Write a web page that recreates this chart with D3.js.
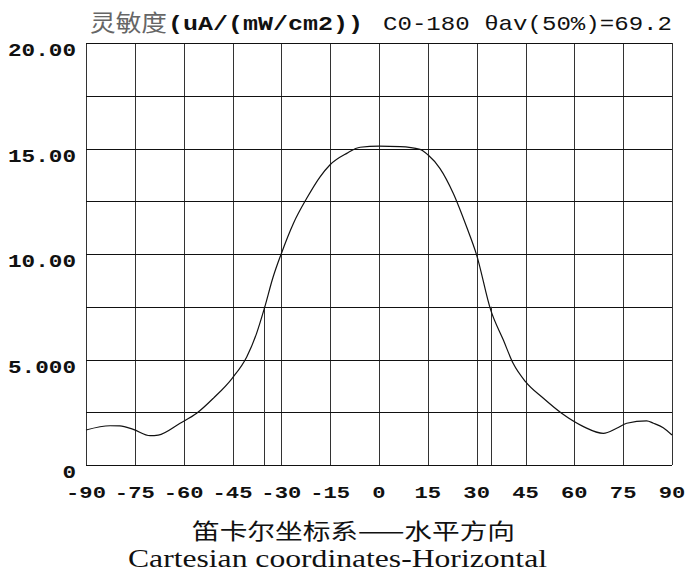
<!DOCTYPE html>
<html>
<head>
<meta charset="utf-8">
<script src="https://cdn.jsdelivr.net/npm/d3@7"></script>
<style>
  body { margin: 0; background: #fff; }
  .mono { font-family: "Liberation Mono", "DejaVu Sans Mono", monospace; font-weight: bold; fill: #111; }
</style>
</head>
<body>
<div id="chart"></div>
<script>
// measured curve, angle (deg) -> sensitivity
var angles = [-90, -82.6, -79.6, -75.5, -70.3, -67.8, -61.1, -56, -50.9, -45.1, -40.6, -37.6, -35.2, -32.5, -30.1,
  -26.3, -22.2, -18.1, -15.1, -9.9, -5.8, 0, 6.5, 12.6, 15.1, 18.7, 22.8, 26.9, 30.0, 34.3, 38.2, 41.2, 45.0,
  50.5, 56.1, 62.8, 68.9, 73.0, 76.1, 82.2, 84.3, 87.3, 90];
var values = [1.66, 1.86, 1.85, 1.69, 1.39, 1.42, 1.98, 2.45, 3.16, 4.11, 5.13, 6.24, 7.43, 8.92, 9.98,
  11.45, 12.64, 13.66, 14.22, 14.77, 15.06, 15.11, 15.09, 14.96, 14.69, 14.06, 12.88, 11.29, 9.95, 7.35, 5.92, 4.82, 3.95,
  3.16, 2.45, 1.82, 1.50, 1.74, 1.98, 2.09, 1.98, 1.77, 1.42];
var halfAngles = [-35.2, 34.3];
var halfValue = 7.5;
var xTicks = [-90, -75, -60, -45, -30, -15, 0, 15, 30, 45, 60, 75, 90];
var yGrid = [0, 2.5, 5, 7.5, 10, 12.5, 15, 17.5, 20];
var yLabels = [[0, "0"], [5, "5.000"], [10, "10.00"], [15, "15.00"], [20, "20.00"]];

var W = 685, H = 587;
var margin = { top: 43, right: 13, bottom: 122, left: 86 },
    width = W - margin.left - margin.right,
    height = H - margin.top - margin.bottom;

var svg = d3.select("#chart").append("svg").attr("width", W).attr("height", H);
var g = svg.append("g").attr("transform", "translate(" + margin.left + "," + margin.top + ")");

var x = d3.scaleLinear().domain([-90, 90]).range([0, width]);
var y = d3.scaleLinear().domain([0, 20]).range([height, 0]);

// grid
g.selectAll(".vg").data(xTicks).enter().append("line")
  .attr("x1", d => Math.round(x(d)) + 0.5).attr("x2", d => Math.round(x(d)) + 0.5)
  .attr("y1", 0).attr("y2", height)
  .attr("stroke", "#333").attr("stroke-width", 1);
g.selectAll(".hg").data(yGrid).enter().append("line")
  .attr("y1", d => Math.round(y(d)) + 0.5).attr("y2", d => Math.round(y(d)) + 0.5)
  .attr("x1", 0).attr("x2", width)
  .attr("stroke", "#111").attr("stroke-width", 1);

// half maximum markers
g.selectAll(".hm").data(halfAngles).enter().append("line")
  .attr("x1", d => Math.round(x(d)) + 0.5).attr("x2", d => Math.round(x(d)) + 0.5)
  .attr("y1", height).attr("y2", y(halfValue))
  .attr("stroke", "#333").attr("stroke-width", 1);

// curve
var line = d3.line().x(d => x(d[0])).y(d => y(d[1])).curve(d3.curveMonotoneX);
g.append("path").datum(angles.map((a, i) => [a, values[i]]))
  .attr("d", line).attr("fill", "none").attr("stroke", "#111").attr("stroke-width", 1.2);

// axis labels
g.selectAll(".yl").data(yLabels).enter().append("text")
  .attr("class", "mono")
  .attr("x", -10).attr("y", d => y(d[0]) + 13)
  .attr("text-anchor", "end").style("font-size", "19px")
  .attr("textLength", d => d[1].length * 13.6).attr("lengthAdjust", "spacingAndGlyphs")
  .text(d => d[1]);

g.selectAll(".xl").data(xTicks).enter().append("text")
  .attr("class", "mono")
  .attr("x", d => x(d)).attr("y", height + 33)
  .attr("text-anchor", "middle").style("font-size", "17px")
  .attr("textLength", d => String(d).length * 13.3).attr("lengthAdjust", "spacingAndGlyphs")
  .text(d => d);

// title
svg.append("text").attr("x", 90).attr("y", 31)
  .style("font-family", "Noto Sans CJK SC").style("font-size", "23px").style("fill", "#666")
  .attr("textLength", 77).attr("lengthAdjust", "spacingAndGlyphs")
  .text("灵敏度");
svg.append("text").attr("class", "mono").attr("x", 168).attr("y", 30)
  .style("font-size", "21px")
  .attr("textLength", 195).attr("lengthAdjust", "spacingAndGlyphs")
  .text("(uA/(mW/cm2))");
svg.append("text").attr("class", "mono").attr("x", 383).attr("y", 30)
  .style("font-size", "21px").style("font-weight", "normal")
  .attr("textLength", 289).attr("lengthAdjust", "spacingAndGlyphs")
  .text("C0-180 θav(50%)=69.2");

// captions
svg.append("text").attr("x", 353.5).attr("y", 539).attr("text-anchor", "middle")
  .style("font-family", "Noto Sans CJK SC").style("font-size", "22px").style("fill", "#111")
  .attr("textLength", 323).attr("lengthAdjust", "spacingAndGlyphs")
  .text("笛卡尔坐标系——水平方向");
svg.append("text").attr("x", 337.5).attr("y", 567).attr("text-anchor", "middle")
  .style("font-family", "Liberation Serif").style("font-size", "25px").style("fill", "#111")
  .attr("textLength", 419).attr("lengthAdjust", "spacingAndGlyphs")
  .text("Cartesian coordinates-Horizontal");
</script>
</body>
</html>
